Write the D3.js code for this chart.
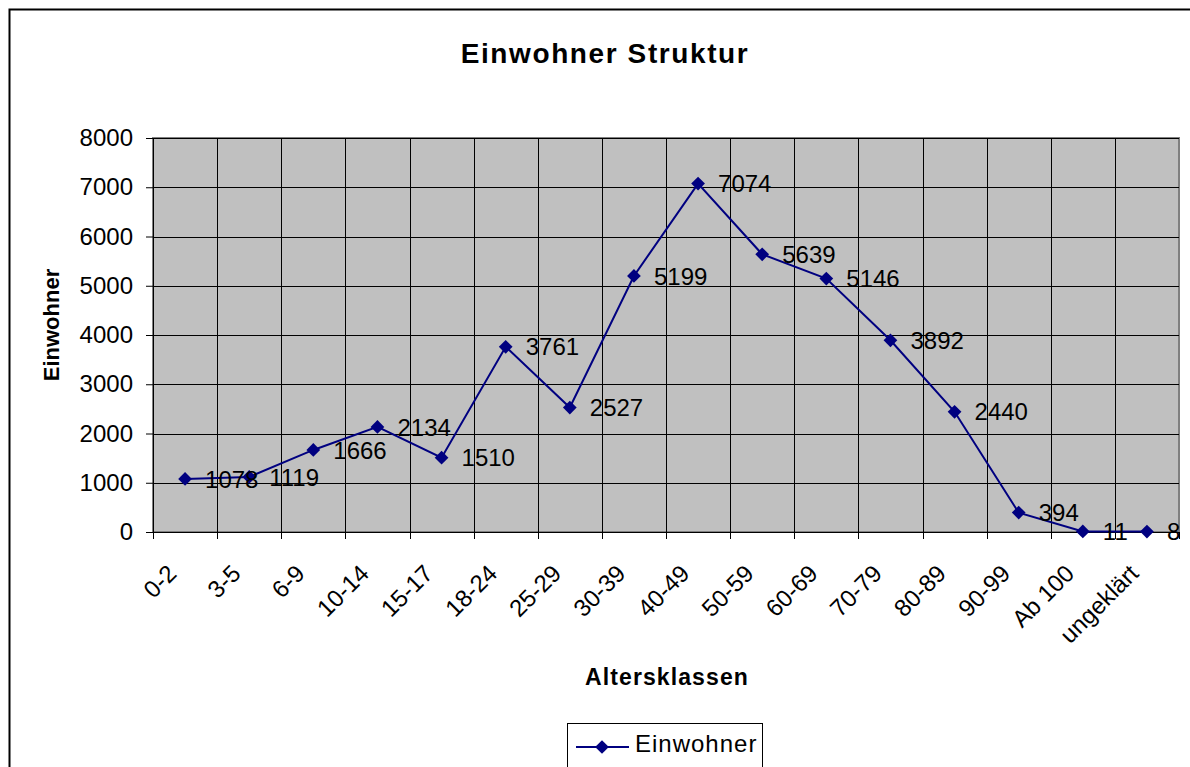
<!DOCTYPE html>
<html>
<head>
<meta charset="utf-8">
<script src="https://cdn.jsdelivr.net/npm/d3@7"></script>
<style>
  body { margin: 0; background: #fff; }
  text { font-family: "Liberation Sans", Arial, sans-serif; fill: #000; }
</style>
</head>
<body>
<script>
// chart data
const categories = ['0-2', '3-5', '6-9', '10-14', '15-17', '18-24', '25-29', '30-39',
                    '40-49', '50-59', '60-69', '70-79', '80-89', '90-99', 'Ab 100', 'ungeklärt'];
const einwohner = [1078, 1119, 1666, 2134, 1510, 3761, 2527, 5199,
                   7074, 5639, 5146, 3892, 2440, 394, 11, 8];
const yTicks = [0, 1000, 2000, 3000, 4000, 5000, 6000, 7000, 8000];

// dimensions
const WIDTH = 1190;
const HEIGHT = 767;
const PLOT = {left: 153, right: 1179, top: 138, bottom: 532};

let SVG = d3.select('body')
            .append('svg')
            .attr('width', WIDTH)
            .attr('height', HEIGHT);

// outer chart frame (runs off the right and bottom edge)
SVG.append('rect')
   .attr('x', 9.5).attr('y', 9.5)
   .attr('width', WIDTH + 20).attr('height', HEIGHT + 20)
   .attr('fill', '#fff')
   .attr('stroke', '#000')
   .attr('stroke-width', 2);

// scales
const xScale = d3.scaleBand()
                 .domain(categories)
                 .range([PLOT.left, PLOT.right]);

const yScale = d3.scaleLinear()
                 .domain([0, 8000])
                 .range([PLOT.bottom, PLOT.top]);

const cx = d => xScale(d) + xScale.bandwidth() / 2;

// plot area
SVG.append('rect')
   .attr('x', PLOT.left).attr('y', PLOT.top)
   .attr('width', PLOT.right - PLOT.left)
   .attr('height', PLOT.bottom - PLOT.top)
   .attr('fill', '#c0c0c0')
   .attr('stroke', '#808080')
   .attr('stroke-width', 2);

// horizontal gridlines
SVG.selectAll('.hgrid')
   .data(yTicks)
   .enter()
   .append('line')
   .attr('x1', PLOT.left).attr('x2', PLOT.right)
   .attr('y1', d => Math.round(yScale(d)) + 0.5)
   .attr('y2', d => Math.round(yScale(d)) + 0.5)
   .attr('stroke', '#000')
   .attr('stroke-width', 1);

// vertical gridlines at category boundaries
SVG.selectAll('.vgrid')
   .data(categories.slice(1))
   .enter()
   .append('line')
   .attr('x1', d => Math.round(xScale(d)) + 0.5)
   .attr('x2', d => Math.round(xScale(d)) + 0.5)
   .attr('y1', PLOT.top).attr('y2', PLOT.bottom)
   .attr('stroke', '#000')
   .attr('stroke-width', 1);

// y-axis
let yAxis = d3.axisLeft(yScale)
              .tickValues(yTicks)
              .tickFormat(d3.format('d'))
              .tickSize(7)
              .tickPadding(13);
let yG = SVG.append('g')
            .attr('transform', 'translate(' + PLOT.left + ',0)')
            .call(yAxis);
yG.attr('font-family', null).attr('font-size', null);
yG.selectAll('text').style('font-size', '24px');

// x-axis line
let xAxis = d3.axisBottom(xScale).tickSize(0).tickFormat('');
let xG = SVG.append('g')
            .attr('transform', 'translate(0,' + PLOT.bottom + ')')
            .call(xAxis);

// x tick marks on category boundaries
SVG.selectAll('.xtick')
   .data(d3.range(categories.length + 1))
   .enter()
   .append('line')
   .attr('x1', i => Math.round(PLOT.left + i * xScale.step()) + 0.5)
   .attr('x2', i => Math.round(PLOT.left + i * xScale.step()) + 0.5)
   .attr('y1', PLOT.bottom).attr('y2', PLOT.bottom + 7)
   .attr('stroke', '#000');

SVG.selectAll('path.domain, .tick line').attr('stroke', '#000');

// rotated category labels
SVG.selectAll('.xlabel')
   .data(categories)
   .enter()
   .append('text')
   .attr('text-anchor', 'end')
   .attr('dy', '0.35em')
   .attr('transform', d => 'translate(' + (cx(d) - 13) + ',569) rotate(-45)')
   .style('font-size', '24px')
   .text(d => d);

// the line
const line = d3.line()
               .x((d, i) => cx(categories[i]))
               .y(d => yScale(d));

SVG.append('path')
   .datum(einwohner)
   .attr('d', line)
   .attr('fill', 'none')
   .attr('stroke', '#000080')
   .attr('stroke-width', 2);

// diamond markers
const diamond = d3.symbol().type(d3.symbolDiamond2).size(120);
SVG.selectAll('.marker')
   .data(einwohner)
   .enter()
   .append('path')
   .attr('d', diamond)
   .attr('transform', (d, i) => 'translate(' + cx(categories[i]) + ',' + yScale(d) + ')')
   .attr('fill', '#000080');

// data labels, right of each point
SVG.selectAll('.dlabel')
   .data(einwohner)
   .enter()
   .append('text')
   .attr('x', (d, i) => cx(categories[i]) + 20)
   .attr('y', d => yScale(d))
   .attr('dy', '0.36em')
   .style('font-size', '24px')
   .text(d => d);

// titles
SVG.append('text')
   .attr('x', 605).attr('y', 63)
   .attr('text-anchor', 'middle')
   .style('font-size', '28px')
   .style('font-weight', 'bold')
   .style('letter-spacing', '1.6px')
   .text('Einwohner Struktur');

SVG.append('text')
   .attr('transform', 'translate(59,325) rotate(-90)')
   .attr('text-anchor', 'middle')
   .style('font-size', '22px')
   .style('font-weight', 'bold')
   .text('Einwohner');

SVG.append('text')
   .attr('x', 667).attr('y', 685)
   .attr('text-anchor', 'middle')
   .style('font-size', '23px')
   .style('font-weight', 'bold')
   .style('letter-spacing', '1.1px')
   .text('Altersklassen');

// legend
let legend = SVG.append('g');
legend.append('rect')
      .attr('x', 567.5).attr('y', 723.5)
      .attr('width', 195).attr('height', 60)
      .attr('fill', '#fff')
      .attr('stroke', '#000');
legend.append('line')
      .attr('x1', 576).attr('x2', 629)
      .attr('y1', 747).attr('y2', 747)
      .attr('stroke', '#000080')
      .attr('stroke-width', 2);
legend.append('path')
      .attr('d', diamond)
      .attr('transform', 'translate(602,747)')
      .attr('fill', '#000080');
legend.append('text')
      .attr('x', 635).attr('y', 752)
      .style('font-size', '24px')
      .style('letter-spacing', '1px')
      .text('Einwohner');
</script>
</body>
</html>
